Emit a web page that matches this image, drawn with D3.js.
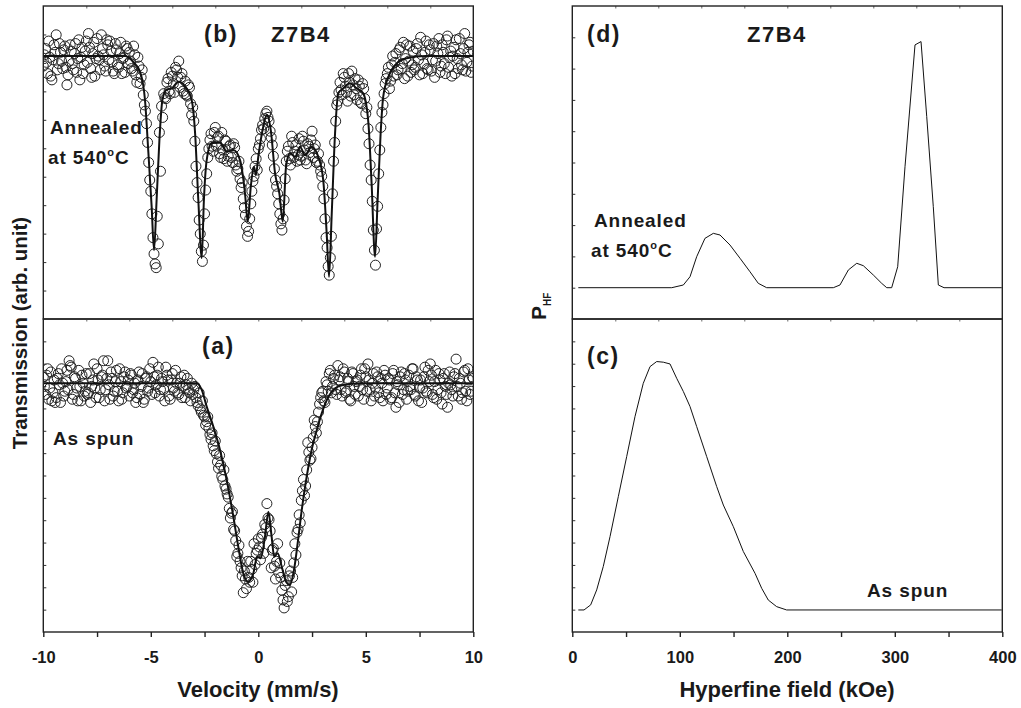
<!DOCTYPE html>
<html>
<head>
<meta charset="utf-8">
<script src="https://d3js.org/d3.v7.min.js"></script>
<style>
  body { margin: 0; background: #fff; }
  svg text { font-family: "Liberation Sans", Arial, sans-serif; font-weight: bold; fill: #1a1a1a; }
</style>
</head>
<body>
<svg width="1021" height="708"></svg>
<script>
// Mossbauer spectra: channel velocities start at -10 mm/s, 0.1 mm/s apart;
// the second half of the channels sits half a step in between
var velStart = -10, velStep = 0.1;

// (b) annealed at 540 C, measured points
var annealedCounts = [
  99.2, 100.6, 98.6, 99.9, 98.1, 100.9, 101.7, 99.4, 100.3, 99.0,
  100.8, 97.7, 99.6, 100.4, 98.9, 101.0, 99.8, 98.1, 100.7, 99.3,
  101.2, 101.8, 99.0, 100.2, 98.4, 101.4, 99.7, 101.7, 100.1, 98.8,
  100.9, 101.2, 99.5, 98.6, 100.5, 99.1, 101.1, 99.8, 98.7, 100.6,
  100.3, 99.0, 100.8, 98.5, 99.9, 97.8, 98.9, 96.1, 94.6, 91.5,
  89.2, 85.5, 83.4, 87.2, 93.9, 96.0, 97.0, 96.6, 98.2, 97.0,
  98.4, 97.1, 98.9, 99.6, 98.3, 97.2, 98.0, 96.8, 97.5, 95.3,
  94.8, 91.2, 88.7, 85.8, 83.6, 87.4, 90.6, 92.6, 93.8, 92.4,
  94.3, 93.5, 92.2, 93.9, 91.8, 93.2, 92.0, 92.9, 91.5, 92.7,
  90.8, 91.6, 89.5, 88.6, 87.3, 85.6, 87.0, 89.2, 90.4, 91.8,
  92.6, 93.4, 94.5, 95.0, 95.6, 94.8, 93.5, 92.0, 90.1, 89.0,
  87.4, 86.1, 88.5, 91.6, 92.8, 91.3, 93.1, 92.4, 91.6, 93.4,
  92.0, 93.2, 91.7, 93.0, 92.3, 94.0, 92.6, 91.5, 92.2, 90.8,
  89.6, 87.0, 84.7, 82.5, 85.6, 91.6, 94.8, 96.4, 97.9, 96.9,
  98.3, 97.1, 98.6, 96.8, 97.7, 98.2, 96.5, 97.6, 96.2, 97.4,
  95.4, 94.2, 91.3, 88.4, 84.5, 86.2, 90.6, 94.3, 96.1, 97.8,
  98.6, 97.4, 99.3, 98.4, 100.2, 98.9, 100.7, 99.4, 98.2, 100.9,
  99.6, 98.7, 100.4, 99.1, 101.0, 98.5, 100.1, 99.4, 101.2, 98.9,
  100.5, 99.7, 98.3, 100.8, 101.4, 99.2, 100.3, 98.6, 101.6, 99.9,
  98.4, 100.7, 101.3, 99.0, 100.2, 98.9, 101.8, 99.5, 100.9, 98.7,
  100.4
];
var annealedCountsMid = [
  100.1, 99.5, 101.2, 98.4, 99.7, 100.3, 98.9, 101.0, 99.6, 100.5,
  99.1, 98.5, 100.9, 99.4, 100.2, 98.7, 101.3, 99.9, 98.6, 100.4,
  99.5, 100.7, 98.3, 101.1, 99.8, 100.0, 98.9, 100.6, 99.2, 101.3,
  99.7, 100.4, 98.8, 101.0, 99.3, 100.2, 98.6, 99.9, 100.8, 99.4,
  99.6, 98.8, 100.1, 97.9, 99.2, 98.3, 96.9, 95.6, 93.1, 90.1,
  87.4, 84.2, 83.1, 85.0, 90.8, 95.1, 96.7, 97.9, 97.2, 98.7,
  97.8, 99.1, 98.3, 97.5, 98.6, 97.0, 96.9, 97.7, 96.2, 95.9,
  93.2, 89.9, 86.9, 84.4, 84.9, 89.3, 91.9, 93.3, 92.8, 93.9,
  92.8, 93.6, 91.9, 92.5, 93.3, 91.6, 92.8, 91.9, 93.0, 91.3,
  91.0, 90.2, 89.9, 87.9, 86.4, 86.0, 88.2, 90.0, 91.2, 90.9,
  92.9, 94.1, 94.2, 95.4, 95.1, 94.0, 92.9, 91.0, 89.6, 88.2,
  86.6, 87.0, 90.2, 92.4, 91.8, 93.6, 91.9, 92.9, 92.1, 91.7,
  93.6, 92.5, 91.4, 92.8, 93.3, 91.9, 92.9, 91.6, 91.3, 90.4,
  88.6, 85.5, 83.2, 83.9, 89.0, 93.1, 96.1, 97.1, 97.3, 98.6,
  97.6, 96.4, 97.9, 98.8, 96.9, 97.4, 98.1, 96.3, 97.8, 96.6,
  95.9, 93.0, 90.1, 86.1, 83.3, 88.0, 92.5, 95.5, 97.0, 98.2,
  99.1, 98.0, 100.0, 99.5, 98.5, 100.5, 99.0, 101.1, 99.8, 98.4,
  100.8, 99.3, 98.9, 100.6, 99.7, 101.5, 98.6, 100.3, 99.0, 100.9,
  98.8, 101.0, 99.6, 100.2, 98.7, 100.9, 99.4, 101.3, 99.1, 100.4,
  100.0, 98.6, 99.8, 101.4, 99.3, 100.6, 98.8, 100.3, 101.1, 99.2
];

// (a) as spun, measured points
var asSpunCounts = [
  100.4, 99.3, 100.9, 99.7, 98.9, 100.2, 99.1, 100.6, 98.8, 100.0,
  99.5, 100.8, 101.4, 101.0, 99.3, 100.3, 98.9, 99.8, 100.5, 99.2,
  100.6, 99.4, 98.8, 100.2, 99.7, 100.9, 99.1, 100.4, 101.4, 99.6,
  101.4, 99.0, 100.3, 99.5, 100.8, 98.9, 100.1, 99.4, 100.7, 99.8,
  99.2, 100.5, 99.6, 98.8, 100.2, 99.3, 100.6, 99.0, 100.4, 99.7,
  100.1, 101.3, 99.4, 100.5, 99.2, 100.3, 99.6, 101.0, 100.2, 99.0,
  100.6, 99.5, 100.0, 99.3, 100.4, 99.8, 99.1, 100.3, 99.4, 100.0,
  99.6, 99.1, 98.6, 98.4, 98.9, 97.9, 97.6, 97.2, 96.5, 96.1,
  96.4, 95.1, 95.5, 94.2, 94.6, 93.4, 92.9, 91.6, 92.0, 90.8,
  89.2, 89.9, 88.5, 86.95, 87.8, 88.9, 87.6, 88.4, 90.0, 89.4,
  90.3, 89.0, 90.6, 91.2, 92.5, 91.5, 88.5, 89.7, 87.8, 90.0,
  88.8, 87.1, 86.0, 87.7, 86.7, 88.3, 87.9, 90.0, 90.7, 91.8,
  92.7, 94.0, 93.6, 96.3, 95.2, 96.0, 97.7, 96.9, 98.2, 99.1,
  99.5, 98.8, 99.9, 100.6, 99.4, 100.3, 99.6, 101.1, 100.4, 99.2,
  100.7, 99.5, 100.1, 98.9, 100.6, 99.3, 100.2, 99.8, 100.9, 99.0,
  100.4, 101.2, 99.6, 100.0, 99.2, 100.7, 99.4, 100.3, 98.9, 100.5,
  99.7, 100.2, 99.1, 100.8, 98.5, 99.9, 100.4, 99.3, 100.6, 99.0,
  100.5, 99.6, 100.9, 99.2, 100.2, 99.7, 98.8, 100.4, 99.5, 100.8,
  101.2, 99.3, 100.1, 99.0, 100.6, 99.4, 100.3, 99.8, 98.5, 100.7,
  99.6, 100.4, 101.5, 99.2, 100.0, 99.4, 100.8, 98.9, 100.2, 99.5,
  100.3
];
var asSpunCountsMid = [
  99.8, 100.5, 99.0, 100.7, 99.4, 98.8, 100.3, 99.9, 100.9, 99.2,
  100.1, 99.6, 101.1, 99.0, 100.4, 99.7, 100.8, 98.9, 100.0, 99.5,
  99.3, 100.6, 99.8, 101.2, 99.1, 100.2, 99.6, 100.5, 98.9, 100.3,
  99.9, 100.7, 99.2, 100.1, 99.5, 100.9, 99.0, 100.4, 99.7, 100.2,
  100.6, 99.4, 100.0, 99.1, 100.7, 99.8, 98.8, 100.3, 99.5, 100.9,
  99.3, 100.4, 99.9, 101.0, 99.6, 100.1, 98.9, 100.5, 99.2, 100.2,
  99.7, 100.8, 99.4, 100.0, 99.1, 100.5, 99.9, 99.6, 98.9, 99.3,
  99.8, 98.8, 99.4, 98.2, 98.0, 97.4, 97.9, 96.8, 96.9, 95.8,
  95.6, 94.7, 94.9, 94.0, 93.6, 93.1, 92.2, 91.9, 90.9, 90.2,
  89.4, 88.9, 88.0, 88.3, 87.2, 87.9, 88.9, 87.6, 88.7, 89.6,
  89.8, 90.4, 89.4, 91.0, 91.6, 90.8, 89.6, 88.6, 88.9, 88.2,
  87.9, 86.5, 87.4, 86.4, 88.0, 87.0, 88.8, 89.3, 90.9, 91.3,
  93.3, 93.0, 94.6, 95.7, 95.3, 96.6, 97.3, 97.6, 98.7, 99.4,
  98.9, 100.1, 99.5, 100.8, 99.8, 100.5, 99.3, 100.2, 99.6, 100.9,
  99.4, 100.3, 99.0, 100.7, 99.8, 100.1, 99.2, 100.5, 99.6, 100.9,
  99.5, 100.2, 98.9, 100.6, 99.7, 100.4, 99.1, 100.0, 100.8, 99.3,
  100.3, 99.0, 100.6, 99.4, 100.1, 98.8, 100.7, 99.6, 100.2, 99.5,
  99.8, 100.9, 99.3, 100.4, 98.9, 100.2, 99.7, 101.0, 99.4, 100.1,
  100.5, 99.1, 100.8, 99.6, 100.2, 98.7, 100.6, 99.3, 100.0, 99.9,
  99.2, 100.6, 99.8, 100.3, 99.0, 100.7, 99.5, 100.9, 99.3, 100.4
];

// fitted curves [velocity, transmission]
var annealedFit = [
  [-10, 100], [-6.2, 100], [-5.82, 99.54], [-5.5, 98.75], [-5.27, 96.49], [-5.12, 92.49],
  [-4.96, 87.96], [-4.85, 84.5], [-4.73, 88.5], [-4.6, 93.29], [-4.46, 96.49], [-4.26, 97.34],
  [-4.03, 97.42], [-3.72, 97.95], [-3.41, 97.6], [-3.1, 96.49], [-2.94, 93.85], [-2.79, 88.5],
  [-2.63, 83.87], [-2.53, 88.5], [-2.4, 91.69], [-2.17, 93.05], [-1.78, 93.08], [-1.47, 92.36],
  [-1.16, 92.49], [-0.85, 91.69], [-0.62, 89.06], [-0.49, 86.77], [-0.35, 89.56], [-0.2, 91.16],
  [-0.11, 90.5], [0.0, 91.96], [0.23, 94.35], [0.39, 95.29], [0.58, 94.09], [0.78, 90.63],
  [0.98, 89.03], [1.14, 86.77], [1.29, 91.16], [1.47, 92.25], [1.71, 91.96], [1.94, 92.76],
  [2.17, 92.09], [2.48, 92.76], [2.79, 91.96], [3.02, 90.1], [3.18, 85.86], [3.29, 82.37],
  [3.41, 87.16], [3.57, 93.83], [3.72, 97.02], [3.95, 97.42], [4.26, 97.82], [4.58, 97.42],
  [4.88, 97.02], [5.12, 94.67], [5.27, 89.83], [5.43, 83.97], [5.55, 88.5], [5.69, 93.83],
  [5.81, 96.75], [6.05, 98.35], [6.36, 99.28], [6.9, 99.82], [7.8, 100], [10, 100]
];
var asSpunFit = [
  [-10, 100], [-2.87, 100], [-2.63, 99.58], [-2.4, 98.54], [-2.09, 97.29], [-1.78, 95.84],
  [-1.47, 93.97], [-1.16, 91.68], [-0.93, 89.81], [-0.7, 88.16], [-0.47, 87.63], [-0.23, 88.16],
  [-0.05, 89.19], [0.11, 89.09], [0.31, 90.44], [0.47, 91.99], [0.62, 90.44], [0.74, 89.19],
  [0.9, 89.4], [1.09, 88.57], [1.29, 87.63], [1.47, 87.43], [1.66, 88.36], [1.83, 90.02],
  [2.02, 92.1], [2.25, 94.17], [2.48, 95.84], [2.72, 97.08], [2.95, 98.12], [3.26, 99.16],
  [3.57, 99.68], [3.95, 99.89], [4.73, 100], [10, 100]
];

// hyperfine field distributions [field kOe, P]
var annealedPhf = [
  [5.6, 0], [92.5, 0], [103.3, 0.26], [109.5, 1.05], [115.7, 2.97], [123.4, 4.73], [131.2, 5.21],
  [137.4, 5.05], [146.7, 4.09], [156, 2.82], [165.3, 1.53], [173, 0.42], [180.8, 0], [242.8, 0],
  [249, 0.26], [256.8, 1.7], [264.6, 2.34], [270.7, 2.11], [280, 1.22], [287.8, 0.42], [292.5, 0],
  [297.1, 0], [302.7, 2.01], [309.5, 11.6], [318.8, 23.27], [324.4, 23.59], [329.7, 16.4],
  [335.8, 7.77], [340.5, 0.26], [345.8, 0], [399.5, 0]
];
var asSpunPhf = [
  [5.6, 0], [10.9, 0], [17.1, 0.23], [22.7, 0.91], [28.8, 1.97], [35.1, 3.33], [42.8, 5.14],
  [50.6, 6.96], [58.3, 8.77], [66, 10.28], [72.3, 11.04], [78.5, 11.27], [84.7, 11.24],
  [90.9, 11.16], [97.1, 10.51], [103.3, 9.91], [109.5, 9.23], [115.7, 8.32], [125, 6.96],
  [134.3, 5.6], [140.5, 4.76], [149.8, 3.78], [159.1, 2.65], [170, 1.66], [176.2, 0.98],
  [182.3, 0.45], [190.1, 0.15], [199.4, 0], [399.5, 0]
];

var velTicks = [-10, -5, 0, 5, 10];
var fieldTicks = [0, 100, 200, 300, 400];

var svg = d3.select("svg");
var yTop = 6, yMid = 319, yBot = 632;

var xVel = d3.scaleLinear().domain([-10, 10]).range([43.3, 473.3]);
var xField = d3.scaleLinear().domain([0, 400]).range([572.3, 1002.3]);
var yB = d3.scaleLinear().domain([79, 104]).range([yMid, yTop]);
var yA = d3.scaleLinear().domain([84.5, 104]).range([yBot, yMid]);
var yD = d3.scaleLinear().domain([-3, 27]).range([yMid, yTop]);
var yC = d3.scaleLinear().domain([-1, 13.2]).range([yBot, yMid]);

function divisions(y, n) {
  var d = y.domain();
  return d3.range(1, n).map(function (i) { return d[0] + i * (d[1] - d[0]) / n; });
}

// clip paths for each panel
var defs = svg.append("defs");
function addClip(id, x, y) {
  defs.append("clipPath").attr("id", id)
    .append("rect")
    .attr("x", x.range()[0]).attr("y", y.range()[1])
    .attr("width", x.range()[1] - x.range()[0])
    .attr("height", y.range()[0] - y.range()[1]);
}
addClip("clipB", xVel, yB);
addClip("clipA", xVel, yA);
addClip("clipD", xField, yD);
addClip("clipC", xField, yC);

// Mossbauer panels: circles then fit line
function spectrum(counts, countsMid, fit, y, clip) {
  var g = svg.append("g").attr("clip-path", "url(#" + clip + ")");
  var pts = counts.map(function (d, i) { return [velStart + i * velStep, d]; })
    .concat(countsMid.map(function (d, i) { return [velStart + velStep / 2 + i * velStep, d]; }));
  g.selectAll("circle")
    .data(pts)
    .enter()
    .append("circle")
    .attr("cx", function (d) { return xVel(d[0]); })
    .attr("cy", function (d) { return y(d[1]); })
    .attr("r", 5)
    .attr("fill", "none")
    .attr("stroke", "#222")
    .attr("stroke-width", 1);
  g.append("path")
    .datum(fit)
    .attr("fill", "none")
    .attr("stroke", "#111")
    .attr("stroke-width", 2)
    .attr("d", d3.line()
      .x(function (d) { return xVel(d[0]); })
      .y(function (d) { return y(d[1]); })
      .curve(d3.curveMonotoneX));
}
spectrum(annealedCounts, annealedCountsMid, annealedFit, yB, "clipB");
spectrum(asSpunCounts, asSpunCountsMid, asSpunFit, yA, "clipA");

// field distributions
function distribution(data, y, clip) {
  svg.append("g").attr("clip-path", "url(#" + clip + ")")
    .append("path")
    .datum(data)
    .attr("fill", "none")
    .attr("stroke", "#111")
    .attr("stroke-width", 1)
    .attr("d", d3.line()
      .x(function (d) { return xField(d[0]); })
      .y(function (d) { return y(d[1]); }));
}
distribution(annealedPhf, yD, "clipD");
distribution(asSpunPhf, yC, "clipC");

// frames and small inner ticks
function frame(x, y, nY, topTicks) {
  var x0 = x.range()[0], x1 = x.range()[1];
  var yt = y.range()[1], yb = y.range()[0];
  svg.append("g")
    .attr("transform", "translate(" + x0 + ",0)")
    .call(d3.axisLeft(y).tickValues(divisions(y, nY)).tickSize(-3).tickFormat(""))
    .call(function (g) {
      g.select(".domain").remove();
      g.selectAll("line").attr("stroke", "#333").attr("stroke-width", 1);
    });
  svg.append("g")
    .attr("transform", "translate(0," + yt + ")")
    .call(d3.axisTop(x).tickValues(topTicks).tickSize(-2.5).tickFormat(""))
    .call(function (g) {
      g.select(".domain").remove();
      g.selectAll("line").attr("stroke", "#666").attr("stroke-width", 1);
    });
  svg.append("rect")
    .attr("x", x0).attr("y", yt)
    .attr("width", x1 - x0).attr("height", yb - yt)
    .attr("fill", "none")
    .attr("stroke", "#222")
    .attr("stroke-width", 1.4);
}
frame(xVel, yB, 11, d3.range(-8, 10, 2));
frame(xVel, yA, 14, d3.range(-8, 10, 2));
frame(xField, yD, 10, d3.range(40, 400, 40));
frame(xField, yC, 14, d3.range(40, 400, 40));

// bottom axes
function bottomAxis(x, ticks, step) {
  var all = d3.range(ticks[0], ticks[ticks.length - 1] + step / 2, step / 2);
  svg.append("g")
    .attr("transform", "translate(0," + yBot + ")")
    .call(d3.axisBottom(x).tickValues(all).tickSize(5).tickPadding(14)
      .tickFormat(function (d) { return ticks.indexOf(d) >= 0 ? String(d) : ""; }))
    .call(function (g) {
      g.select(".domain").remove();
      g.selectAll("line").attr("stroke", "#222").attr("stroke-width", 1.4);
      g.selectAll("text")
        .attr("font-size", 16.5)
        .attr("font-family", "Liberation Sans, Arial, sans-serif")
        .attr("font-weight", "bold")
        .attr("fill", "#1a1a1a");
    });
}
bottomAxis(xVel, velTicks, 5);
bottomAxis(xField, fieldTicks, 100);

// axis titles
svg.append("text")
  .attr("x", 258).attr("y", 697)
  .attr("text-anchor", "middle")
  .attr("font-size", 22)
  .text("Velocity (mm/s)");
svg.append("text")
  .attr("x", 787).attr("y", 697)
  .attr("text-anchor", "middle")
  .attr("font-size", 22)
  .text("Hyperfine field (kOe)");
svg.append("text")
  .attr("transform", "translate(27,333) rotate(-90)")
  .attr("text-anchor", "middle")
  .attr("font-size", 20.5)
  .text("Transmission (arb. unit)");
var pLabel = svg.append("text")
  .attr("transform", "translate(546,320) rotate(-90)")
  .attr("font-size", 21);
pLabel.append("tspan").text("P");
pLabel.append("tspan").attr("font-size", 10).attr("dy", 5).text("HF");

// panel labels
function label(x, y, s, size) {
  return svg.append("text")
    .attr("x", x).attr("y", y)
    .attr("font-size", size)
    .attr("letter-spacing", size > 20 ? 1.5 : 0.9)
    .text(s);
}
function tempLabel(x, y) {
  var t = svg.append("text")
    .attr("x", x).attr("y", y)
    .attr("font-size", 19)
    .attr("letter-spacing", 0.9);
  t.append("tspan").text("at 540");
  t.append("tspan").attr("font-size", 11).attr("dy", -8).text("o");
  t.append("tspan").attr("dy", 8).text("C");
}
label(204, 42, "(b)", 23);
label(271, 42, "Z7B4", 22);
label(202, 354, "(a)", 23);
label(587, 42, "(d)", 23);
label(747, 42, "Z7B4", 22);
label(587, 364, "(c)", 23);
label(50, 134, "Annealed", 19);
tempLabel(48, 164);
label(594, 227, "Annealed", 19);
tempLabel(591, 257);
label(53, 445, "As spun", 19);
label(867, 597, "As spun", 19);
</script>
</body>
</html>
